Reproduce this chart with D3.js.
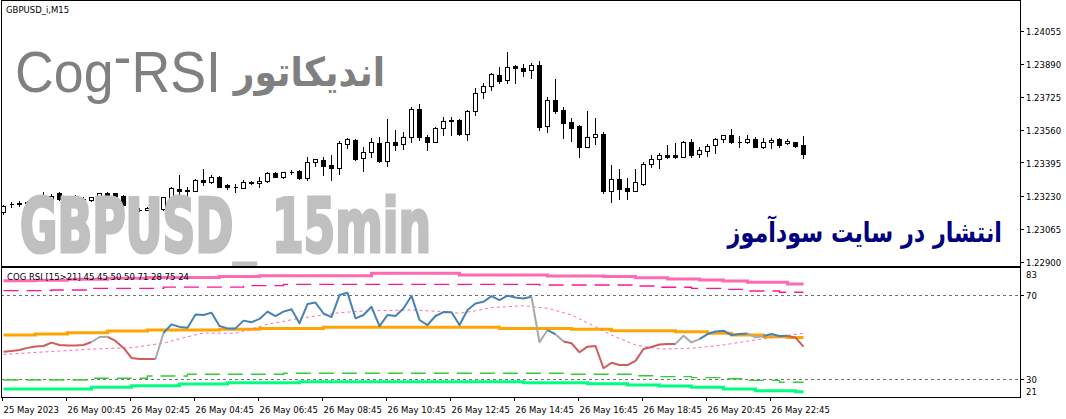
<!DOCTYPE html>
<html><head><meta charset="utf-8">
<script src="https://cdnjs.cloudflare.com/ajax/libs/d3/7.8.5/d3.min.js"></script>
<style>html,body{margin:0;padding:0;background:#fff;overflow:hidden}svg{display:block}</style>
</head><body>
<svg id="c" width="1066" height="419"></svg>
<script>
// ---------------- DATA ----------------
const barOpen = [1.23152,1.23188,1.23192,1.23196,1.23200,1.23210,1.23207,1.23247,1.23215,1.23217,
1.23217,1.23210,1.23223,1.23243,1.23243,1.23230,1.23170,1.23162,1.23162,1.23168,
1.23163,1.23222,1.23265,1.23260,1.23257,1.23308,1.23302,1.23327,1.23283,1.23275,
1.23272,1.23302,1.23297,1.23305,1.23343,1.23327,1.23350,1.23355,1.23318,1.23398,
1.23410,1.23385,1.23368,1.23488,1.23510,1.23418,1.23448,1.23493,1.23407,1.23498,
1.23490,1.23527,1.23665,1.23527,1.23502,1.23568,1.23603,1.23610,1.23538,1.23657,
1.23748,1.23780,1.23835,1.23810,1.23880,1.23868,1.23860,1.23883,1.23582,1.23708,
1.23660,1.23600,1.23580,1.23477,1.23523,1.23538,1.23257,1.23313,1.23270,1.23257,
1.23290,1.23388,1.23413,1.23435,1.23435,1.23427,1.23498,1.23438,1.23457,1.23483,
1.23513,1.23533,1.23502,1.23498,1.23513,1.23477,1.23498,1.23513,1.23493,1.23498,
1.23483];
const barHigh = [1.23187,1.23202,1.23205,1.23203,1.23210,1.23252,1.23240,1.23250,1.23227,1.23235,
1.23227,1.23227,1.23247,1.23250,1.23247,1.23233,1.23177,1.23168,1.23175,1.23190,
1.23227,1.23277,1.23335,1.23277,1.23313,1.23363,1.23335,1.23330,1.23290,1.23290,
1.23310,1.23305,1.23327,1.23352,1.23352,1.23352,1.23360,1.23360,1.23423,1.23417,
1.23423,1.23435,1.23505,1.23518,1.23513,1.23477,1.23518,1.23523,1.23615,1.23560,
1.23548,1.23677,1.23690,1.23535,1.23573,1.23627,1.23623,1.23613,1.23660,1.23772,
1.23793,1.23843,1.23877,1.23948,1.23883,1.23890,1.23897,1.23905,1.23723,1.23813,
1.23677,1.23618,1.23585,1.23655,1.23618,1.23548,1.23385,1.23365,1.23320,1.23365,
1.23402,1.23435,1.23443,1.23485,1.23497,1.23505,1.23515,1.23477,1.23488,1.23518,
1.23537,1.23565,1.23530,1.23533,1.23523,1.23518,1.23518,1.23520,1.23513,1.23502,
1.23530];
const barLow = [1.23140,1.23177,1.23180,1.23187,1.23190,1.23193,1.23185,1.23210,1.23202,1.23193,
1.23200,1.23203,1.23218,1.23227,1.23227,1.23180,1.23160,1.23155,1.23158,1.23163,
1.23160,1.23218,1.23213,1.23230,1.23253,1.23285,1.23297,1.23273,1.23263,1.23252,
1.23268,1.23290,1.23277,1.23302,1.23323,1.23318,1.23340,1.23315,1.23310,1.23380,
1.23335,1.23310,1.23338,1.23468,1.23410,1.23357,1.23427,1.23402,1.23380,1.23460,
1.23463,1.23502,1.23510,1.23460,1.23498,1.23535,1.23535,1.23535,1.23510,1.23635,
1.23718,1.23760,1.23797,1.23793,1.23793,1.23830,1.23818,1.23560,1.23552,1.23647,
1.23518,1.23507,1.23427,1.23473,1.23488,1.23247,1.23202,1.23217,1.23217,1.23253,
1.23285,1.23377,1.23368,1.23418,1.23422,1.23423,1.23427,1.23427,1.23432,1.23447,
1.23498,1.23495,1.23477,1.23495,1.23473,1.23468,1.23468,1.23477,1.23490,1.23473,
1.23422];
const barClose = [1.23182,1.23190,1.23195,1.23198,1.23203,1.23202,1.23232,1.23213,1.23218,1.23210,
1.23210,1.23223,1.23243,1.23237,1.23232,1.23185,1.23167,1.23160,1.23168,1.23185,
1.23223,1.23272,1.23255,1.23253,1.23310,1.23302,1.23327,1.23277,1.23273,1.23277,
1.23302,1.23293,1.23305,1.23347,1.23327,1.23348,1.23352,1.23318,1.23402,1.23413,
1.23380,1.23368,1.23493,1.23515,1.23415,1.23448,1.23498,1.23407,1.23498,1.23487,
1.23527,1.23665,1.23527,1.23498,1.23568,1.23607,1.23610,1.23538,1.23657,1.23747,
1.23780,1.23838,1.23807,1.23877,1.23868,1.23857,1.23883,1.23577,1.23708,1.23657,
1.23593,1.23572,1.23477,1.23523,1.23538,1.23257,1.23313,1.23267,1.23257,1.23298,
1.23388,1.23415,1.23433,1.23427,1.23427,1.23498,1.23435,1.23460,1.23480,1.23513,
1.23533,1.23498,1.23498,1.23515,1.23477,1.23498,1.23510,1.23487,1.23503,1.23482,
1.23438];

const priceTicks = [1.24055,1.23890,1.23725,1.23560,1.23395,1.23230,1.23065,1.22900];
const timeTickBars = [0,8,16,24,32,40,48,56,64,72,80,88,96];
const timeLabels = ["25 May 2023","26 May 00:45","26 May 02:45","26 May 04:45","26 May 06:45","26 May 08:45",
  "26 May 10:45","26 May 12:45","26 May 14:45","26 May 16:45","26 May 18:45","26 May 20:45","26 May 22:45"];

// COG RSI main line (one value per bar) and colour state of each segment (R=down, G=neutral, B=up)
const rsiValues = [43.1,43.4,43.9,44.9,45.6,45.8,47.4,46.3,46.0,46.0,
 46.3,47.7,50.1,50.2,48.2,44.9,40.1,39.6,39.6,39.6,
 52.0,56.1,54.9,54.5,60.8,60.6,61.7,55.3,54.2,54.2,
 57.9,57.1,58.7,62.2,60.1,62.2,63.3,56.6,65.8,66.5,
 61.3,59.6,70.1,71.2,59.0,60.6,64.5,55.3,60.6,60.1,
 63.7,69.8,58.2,55.8,60.1,62.0,61.9,55.8,63.0,66.1,
 66.9,69.6,67.7,69.8,68.9,68.5,69.3,47.6,53.4,51.4,
 47.9,47.1,42.8,45.5,45.8,35.2,37.8,36.7,36.7,38.7,
 44.4,45.3,46.5,46.8,46.8,50.7,47.5,49.1,51.5,52.7,
 53.1,51.0,51.5,51.8,49.9,50.6,51.5,50.6,50.7,49.8,
 45.5];
const rsiSegState = ["R","R","R","R","R","R","R","R","R","R",
 "R","G","G","R","R","R","R","R","R","G",
 "B","B","B","B","B","B","B","B","B","B",
 "B","B","B","B","B","B","B","B","B","B",
 "B","B","B","B","B","B","B","B","B","B",
 "B","B","B","B","B","B","B","B","B","B",
 "B","B","B","B","B","B","G","G","B","G",
 "R","R","R","R","R","R","R","R","R","R",
 "R","R","R","R","G","G","G","B","B","B",
 "B","B","B","G","G","B","B","B","R","R"];

// moving average of RSI (dotted)
const maBars = [0,7,12,16,20,23,25,27,29,32,33,37,42,45,51,55,57,59,61,65,68,71,74,76,79,82,86,90,94,100];
const maVals = [41.8,43.4,44.5,45.0,47.2,50.2,52.0,51.9,51.9,55.0,56.2,59.0,61.7,62.5,63.0,62.2,61.4,62.6,64.1,65.0,63.8,60.6,55.0,51.0,46.3,44.4,44.7,46.3,48.7,51.9];

// centre of gravity line and bands (stepped)
const centerBars = [0,4,8,13,18,27,32,40,62,71,76,84,88,91,95,98,100];
const centerVals = [51.1,51.5,52.1,52.9,53.4,53.8,54.2,54.7,54.2,53.8,53.1,52.6,51.9,51.1,50.2,49.8,49.8];
const upperBars = [0,4,8,13,18,27,32,46,57,68,75,79,83,87,90,93,98,100];
const upperVals = [76.9,77.2,77.6,78.1,78.5,78.9,79.3,80.5,79.7,79.2,78.9,78.4,77.8,77.3,76.8,76.2,75.4,75.4];
const upper2Bars = [0,6,11,20,30,35,67,79,82,86,90,93,97,100];
const upper2Vals = [72.2,72.5,73.3,73.9,74.6,75.2,74.9,74.4,73.8,73.3,72.8,72.0,71.4,71.4];
const lower2Bars = [0,11,18,23,35,71,79,82,86,90,93,97,100];
const lower2Vals = [29.6,30.4,31.5,32.3,32.8,32.3,31.6,31.2,30.7,30.2,29.4,28.5,28.5];
const lowerBars = [0,11,16,22,28,37,65,73,78,82,86,90,94,99,100];
const lowerVals = [25.3,26.1,26.9,27.7,28.3,28.8,28.3,27.8,27.2,26.7,26.1,25.3,24.5,24.0,24.0];

const indLevels = [70,30];
const indTicks = [83,70,30,21];
const indHeader = "COG RSI [15>21] 45 45 50 50 71 28 75 24";
const chartTitle = "GBPUSD_i,M15";

// ---------------- LAYOUT ----------------
const svg = d3.select("#c");
const FONT = "DejaVu Sans";
const AX = 1020;            // right axis x
const P_TOP = 1, P_BOT = 266, I_TOP = 268, I_BOT = 397;

const xBar = d3.scaleLinear().domain([0,100]).range([3.5,803.5]);
const yPrice = d3.scaleLinear().domain([1.22900,1.24055]).range([262,31]);
const yInd = d3.scaleLinear().domain([21,83]).range([398,268]);

const px = v => Math.floor(v) + 0.5;

// clip paths
const defs = svg.append("defs");
defs.append("clipPath").attr("id","cp").append("rect").attr("x",1).attr("y",P_TOP).attr("width",AX-1).attr("height",P_BOT-P_TOP);
defs.append("clipPath").attr("id","ci").append("rect").attr("x",1).attr("y",I_TOP).attr("width",AX-1).attr("height",I_BOT-I_TOP);

// ---------------- PRICE PANE ----------------
const gp = svg.append("g").attr("clip-path","url(#cp)");

function fitText(sel, x0, x1){
  const n = sel.node(); const b = n.getBBox(); const s = (x1-x0)/b.width;
  sel.attr("transform", `translate(${x0 - b.x*s},0) scale(${s},1)`);
}

const t1 = gp.append("text").attr("y",92).attr("font-family","Liberation Sans, Arial, sans-serif")
  .attr("font-size",57).attr("fill","#808080");
t1.append("tspan").text("Cog");
t1.append("tspan").attr("dy",-16).text("-");
t1.append("tspan").attr("dy",16).text("RSI");
fitText(t1, 15, 221);
const t2 = gp.append("text").attr("y",86).attr("font-family","DejaVu Sans").attr("font-weight","bold")
  .attr("font-size",40).attr("fill","#808080").text("اندیکاتور");
fitText(t2, 232, 385);

const bars = d3.range(barOpen.length).map(i => ({i, o:barOpen[i], h:barHigh[i], l:barLow[i], c:barClose[i]}));
const gc = gp.append("g").attr("shape-rendering","crispEdges");
gc.selectAll("line.wick").data(bars).join("line").attr("class","wick")
  .attr("x1", d => px(xBar(d.i))).attr("x2", d => px(xBar(d.i)))
  .attr("y1", d => Math.round(yPrice(d.h))).attr("y2", d => Math.round(yPrice(d.l))+1)
  .attr("stroke","#000").attr("stroke-width",1);
gc.selectAll("path.body").data(bars).join("path").attr("class","body")
  .attr("d", d => {
    const cx = px(xBar(d.i));
    const yt = Math.round(yPrice(Math.max(d.o,d.c))) + 0.5;
    const yb = Math.round(yPrice(Math.min(d.o,d.c))) + 0.5;
    return `M${cx-2},${yt}H${cx+2}V${yb}H${cx-2}Z`;
  })
  .attr("fill", d => d.c >= d.o ? "#fff" : "#000")
  .attr("stroke","#000").attr("stroke-width",1);

// big watermark drawn over the candles (heavy condensed face)
const t3 = gp.append("text").attr("y",252).attr("font-family","DejaVu Sans Condensed, Liberation Sans Narrow, sans-serif")
  .attr("font-weight","bold").attr("font-size",74).attr("fill","#c0c0c0")
  .attr("stroke","#c0c0c0").attr("stroke-width",3.2).attr("stroke-linejoin","miter")
  .text("GBPUSD_ 15min");
fitText(t3, 20, 431);
const t4 = gp.append("text").attr("y",242).attr("font-family","DejaVu Sans").attr("font-weight","bold")
  .attr("font-size",28).attr("fill","#000080").text("انتشار در سایت سودآموز");
fitText(t4, 726, 1002);

svg.append("text").attr("x",6).attr("y",13).attr("font-family",FONT).attr("font-size",8.5)
  .attr("fill","#000").text(chartTitle);

// ---------------- INDICATOR PANE ----------------
const gi = svg.append("g").attr("clip-path","url(#ci)");
const lineStep = d3.line().x(d => xBar(d[0])).y(d => yInd(d[1])).curve(d3.curveStepAfter);
const lineLin = d3.line().x(d => xBar(d[0])).y(d => yInd(d[1]));
const zipPts = (b,v) => b.map((bi,k) => [bi, v[k]]);

gi.selectAll("line.lvl").data(indLevels).join("line").attr("class","lvl")
  .attr("x1",1).attr("x2",AX).attr("y1",d => px(yInd(d))).attr("y2",d => px(yInd(d)))
  .attr("stroke","#707070").attr("stroke-width",1).attr("stroke-dasharray","3,3");

function band(b, v, color, width, dash){
  const p = gi.append("path").attr("d", lineStep(zipPts(b,v))).attr("fill","none")
    .attr("stroke",color).attr("stroke-width",width);
  if (dash) p.attr("stroke-dasharray",dash);
}
band(upperBars, upperVals, "#ff69b4", 3);
band(upper2Bars, upper2Vals, "#ff1493", 1.4, "15,8");
band(lower2Bars, lower2Vals, "#32cd32", 1.4, "15,8");
band(lowerBars, lowerVals, "#00ff7f", 3);
band(centerBars, centerVals, "#ffa500", 3);

gi.append("path").attr("d", lineLin(zipPts(maBars, maVals))).attr("fill","none")
  .attr("stroke","#ff69b4").attr("stroke-width",1).attr("stroke-dasharray","3,3");

const stateColor = {R:"#cd5c5c", G:"#a9a9a9", B:"#4682b4"};
let runs = [], cur = null;
rsiSegState.forEach((s,k) => {
  if (!cur || cur.s !== s) { cur = {s, pts:[[k, rsiValues[k]]]}; runs.push(cur); }
  cur.pts.push([k+1, rsiValues[k+1]]);
});
gi.selectAll("path.rsi").data(runs).join("path").attr("class","rsi")
  .attr("d", d => lineLin(d.pts)).attr("fill","none")
  .attr("stroke", d => stateColor[d.s]).attr("stroke-width",2).attr("stroke-linejoin","round");

svg.append("text").attr("x",7).attr("y",280).attr("font-family",FONT).attr("font-size",8.5)
  .attr("fill","#000").text(indHeader);

// ---------------- FRAMES & AXES ----------------
const fr = svg.append("g").attr("shape-rendering","crispEdges").attr("fill","none").attr("stroke","#000");
fr.append("rect").attr("x",1.5).attr("y",0.5).attr("width",AX-1.5).attr("height",P_BOT-0.5);
fr.append("rect").attr("x",1.5).attr("y",I_TOP-0.5).attr("width",AX-1.5).attr("height",I_BOT-I_TOP+0.5);

const ya = svg.append("g");
ya.selectAll("line").data(priceTicks).join("line")
  .attr("x1",AX).attr("x2",AX+4).attr("y1",d => px(yPrice(d))).attr("y2",d => px(yPrice(d)))
  .attr("stroke","#000").attr("shape-rendering","crispEdges");
ya.selectAll("text").data(priceTicks).join("text")
  .attr("x",AX+6).attr("y",d => yPrice(d)+3.5).attr("font-family",FONT).attr("font-size",8.5)
  .attr("fill","#000").text(d => d.toFixed(5));

const ia = svg.append("g");
ia.selectAll("line").data(indLevels).join("line")
  .attr("x1",AX).attr("x2",AX+4).attr("y1",d => px(yInd(d))).attr("y2",d => px(yInd(d)))
  .attr("stroke","#000").attr("shape-rendering","crispEdges");
ia.selectAll("text").data(indTicks).join("text")
  .attr("x",AX+6)
  .attr("y",(d,k) => k===0 ? yInd(d)+9.5 : (k===indTicks.length-1 ? yInd(d)-3 : yInd(d)+3.5))
  .attr("font-family",FONT).attr("font-size",8.5).attr("fill","#000").text(d => d);

const xa = svg.append("g");
xa.selectAll("line").data(timeTickBars).join("line")
  .attr("x1",d => px(xBar(d))-1).attr("x2",d => px(xBar(d))-1).attr("y1",I_BOT).attr("y2",I_BOT+4)
  .attr("stroke","#000").attr("shape-rendering","crispEdges");
xa.selectAll("text").data(timeTickBars).join("text")
  .attr("x",d => xBar(d)).attr("y",413).attr("font-family",FONT).attr("font-size",8.5)
  .attr("fill","#000").text((d,k) => timeLabels[k]);
</script>
</body></html>
